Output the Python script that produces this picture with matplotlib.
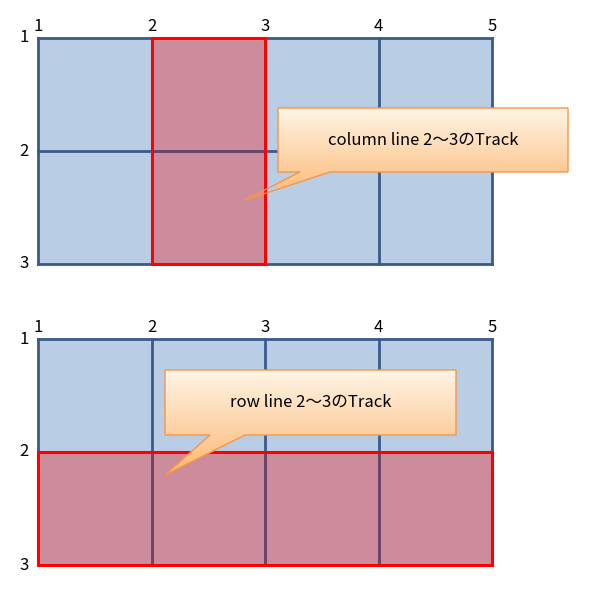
import numpy as np
import matplotlib.pyplot as plt
from matplotlib.patches import Rectangle, Polygon

plt.rcParams['font.family'] = ['Noto Sans CJK JP', 'DejaVu Sans']

# grid lines
col_lines = [1, 2, 3, 4, 5]
row_lines = [1, 2, 3]
# highlighted tracks: (kind, start line, end line)
tracks = [("column", 2, 3), ("row", 2, 3)]
labels = ["column line 2\u301c3のTrack", "row line 2\u301c3のTrack"]

# geometry (pixels)
x0, cw = 38, 113.5
tops, rh = [38, 339], 113

fig = plt.figure(figsize=(5.89, 5.97), dpi=100)
ax = fig.add_axes([0, 0, 1, 1])
ax.set_xlim(0, 589)
ax.set_ylim(597, 0)
ax.axis("off")

blue_fill, blue_line = "#B9CDE5", "#3A5A8C"
red_fill, red_line = "#CD8C9B", "#FF0000"

callouts = [
    dict(box=(278, 108, 568, 172), tip=(245, 200), base=(300, 330)),
    dict(box=(165, 370, 456, 435), tip=(165, 475), base=(210, 245)),
]

grad = np.linspace(0, 1, 100).reshape(-1, 1)
c_top = np.array([1.0, 0.96, 0.90])
c_bot = np.array([0.99, 0.72, 0.45])
img = c_top + (c_bot - c_top) * grad[..., None]

for top, (kind, a, b), label, co in zip(tops, tracks, labels, callouts):
    xs = [x0 + (c - 1) * cw for c in col_lines]
    ys = [top + (r - 1) * rh for r in row_lines]
    ax.add_patch(Rectangle((xs[0], ys[0]), xs[-1] - xs[0], ys[-1] - ys[0],
                           facecolor=blue_fill, edgecolor="none", zorder=1))
    if kind == "column":
        rx, ry, rw, rhh = xs[a - 1], ys[0], xs[b - 1] - xs[a - 1], ys[-1] - ys[0]
    else:
        rx, ry, rw, rhh = xs[0], ys[a - 1], xs[-1] - xs[0], ys[b - 1] - ys[a - 1]
    ax.add_patch(Rectangle((rx, ry), rw, rhh, facecolor=red_fill,
                           edgecolor="none", zorder=2))
    for x in xs:
        ax.plot([x, x], [ys[0], ys[-1]], color=blue_line, lw=2, zorder=3)
    for y in ys:
        ax.plot([xs[0], xs[-1]], [y, y], color=blue_line, lw=2, zorder=3)
    # inner lines inside red area look purple
    for x in xs:
        if rx < x < rx + rw:
            ax.plot([x, x], [ry, ry + rhh], color="#6E4466", lw=2, zorder=3.5)
    for y in ys:
        if ry < y < ry + rhh:
            ax.plot([rx, rx + rw], [y, y], color="#6E4466", lw=2, zorder=3.5)
    ax.add_patch(Rectangle((rx, ry), rw, rhh, facecolor="none",
                           edgecolor=red_line, lw=2.2, zorder=4))
    for c, x in zip(col_lines, xs):
        ax.text(x, top - 3, str(c), ha="center", va="bottom", fontsize=12, zorder=5)
    for r, y in zip(row_lines, ys):
        ax.text(x0 - 9, y, str(r), ha="right", va="center", fontsize=12, zorder=5)

    # callout
    bx0, by0, bx1, by1 = co["box"]
    tx, ty = co["tip"]
    p0, p1 = co["base"]
    pts = [(bx0, by0), (bx1, by0), (bx1, by1), (p1, by1), (tx, ty), (p0, by1), (bx0, by1)]
    poly = Polygon(pts, closed=True, facecolor="none", edgecolor="#F79646", lw=1, zorder=7)
    ax.add_patch(poly)
    im = ax.imshow(img, extent=(bx0, bx1, max(by1, ty), by0), aspect="auto", zorder=6)
    clip = Polygon(pts, closed=True, transform=ax.transData)
    im.set_clip_path(clip)
    ax.text((bx0 + bx1) / 2, (by0 + by1) / 2, label, ha="center", va="center",
            fontsize=12, zorder=8)

ax.set_xlim(0, 589)
ax.set_ylim(597, 0)
fig.savefig("out.png", dpi=100)
